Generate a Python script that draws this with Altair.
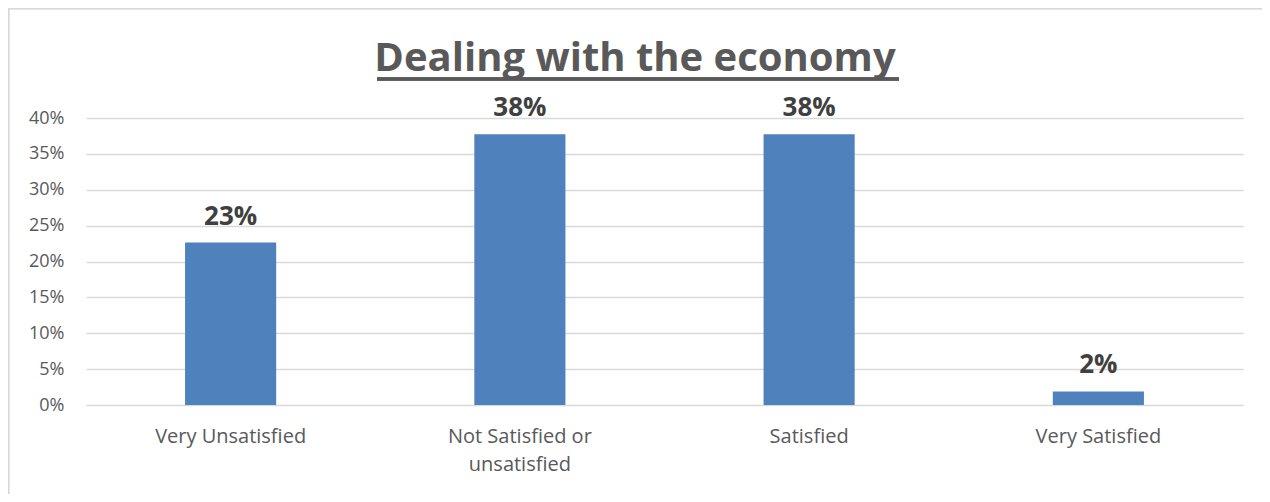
import altair as alt
import pandas as pd

categories = ["Very Unsatisfied", "Not Satisfied or unsatisfied", "Satisfied", "Very Satisfied"]
values = [0.2264, 0.3774, 0.3774, 0.0189]
y_ticks = [0, 0.05, 0.10, 0.15, 0.20, 0.25, 0.30, 0.35, 0.40]
title_text = "Dealing with the economy"

df = pd.DataFrame({"category": categories, "value": values})

FONT = "Open Sans"
W, H = 1157, 287

x_enc = alt.X(
    "category:N",
    sort=categories,
    scale=alt.Scale(paddingInner=0.685, paddingOuter=0.3425),
    axis=alt.Axis(
        title=None,
        labelAngle=0,
        labelFont=FONT,
        labelFontSize=20,
        labelColor="#595959",
        labelPadding=21,
        labelLineHeight=28,
        labelBaseline="top",
        domain=False,
        ticks=False,
        grid=False,
        labelExpr="datum.value == 'Not Satisfied or unsatisfied' ? ['Not Satisfied or', 'unsatisfied'] : datum.value",
    ),
)
y_enc = alt.Y(
    "value:Q",
    scale=alt.Scale(domain=[0, 0.4], nice=False),
    axis=alt.Axis(
        title=None,
        values=y_ticks,
        format=".0%",
        labelFont=FONT,
        labelFontSize=18,
        labelColor="#595959",
        labelPadding=22,
        labelOverlap=False,
        domain=False,
        ticks=False,
        grid=True,
        gridColor="#d9d9d9",
        gridWidth=1.5,
    ),
)

bars = alt.Chart(df).mark_bar(color="#4f81bd").encode(x=x_enc, y=y_enc)

labels = alt.Chart(df).mark_text(
    font=FONT, fontSize=26, fontWeight="bold", color="#404040",
    baseline="alphabetic", dy=-18,
).encode(
    x=x_enc,
    y=y_enc,
    text=alt.Text("value:Q", format=".0%"),
)

underline = alt.Chart(df).mark_rule(color="#595959", strokeWidth=3).encode(
    x=alt.value(291), x2=alt.value(813), y=alt.value(-39)
)
border_left = alt.Chart(df).mark_rule(color="#d9d9d9", strokeWidth=1.5).encode(
    x=alt.value(-77.5), y=alt.value(-110), y2=alt.value(H + 89)
)
border_top = alt.Chart(df).mark_rule(color="#d9d9d9", strokeWidth=1.5).encode(
    x=alt.value(-78), x2=alt.value(W + 19), y=alt.value(-109.5)
)

chart = alt.layer(bars, labels, underline, border_left, border_top).properties(
    width=W,
    height=H,
    background="white",
    title=alt.TitleParams(
        title_text,
        font=FONT,
        fontSize=40,
        fontWeight="bold",
        color="#595959",
        anchor="middle",
        frame="bounds",
        baseline="alphabetic",
        offset=-104,
    ),
    autosize=alt.AutoSizeParams(type="none"),
    padding={"left": 78, "top": 110, "right": 19, "bottom": 89},
).configure_view(stroke=None)

chart.save("out.html", embed_options={"renderer": "svg", "actions": False})
